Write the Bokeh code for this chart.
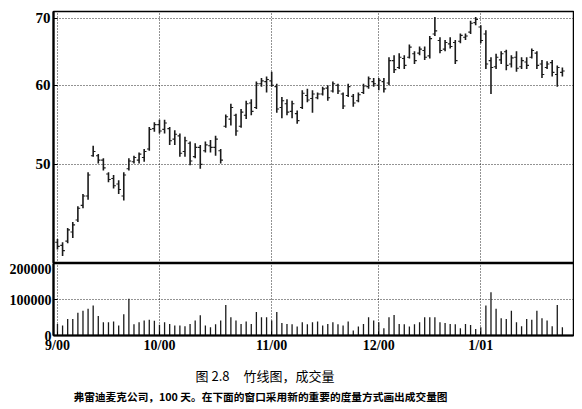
from bokeh.plotting import figure
from bokeh.layouts import column
from bokeh.models import Range1d, FixedTicker, BasicTickFormatter
from bokeh.core.properties import value
from bokeh.embed import file_html
from bokeh.resources import INLINE

# ---- data ----
highs = [42.1, 41.8, 43.2, 43.8, 45.4, 46.7, 49.1, 52.2, 51.2, 50.7,
         49.1, 48.8, 48.2, 49.1, 50.7, 51.0, 51.4, 51.8, 54.5, 55.1,
         55.4, 55.4, 54.5, 54.1, 53.7, 53.3, 52.7, 52.5, 52.3, 52.7,
         52.9, 53.4, 51.8, 56.1, 57.5, 56.2, 56.8, 57.9, 58.1, 60.5,
         61.0, 61.2, 61.9, 60.2, 58.4, 58.1, 57.9, 56.6, 59.3, 59.5,
         59.3, 59.0, 59.8, 60.0, 60.5, 60.2, 59.0, 60.2, 58.8, 59.0,
         60.2, 61.2, 61.0, 61.0, 61.0, 64.0, 64.3, 64.6, 64.3, 65.9,
         64.9, 65.6, 65.6, 67.2, 70.2, 67.0, 66.6, 67.0, 66.6, 67.6,
         67.6, 69.6, 70.2, 68.9, 68.1, 64.0, 64.5, 64.9, 65.1, 64.3,
         64.9, 64.0, 64.0, 65.3, 64.9, 63.6, 63.4, 63.6, 62.8, 62.5]
lows = [41.1, 40.5, 41.7, 42.2, 43.8, 45.2, 46.1, 50.9, 50.1, 49.3,
        48.0, 47.3, 46.7, 46.0, 49.3, 50.1, 50.1, 50.3, 51.6, 53.9,
        53.7, 53.7, 52.3, 52.3, 50.9, 50.9, 49.9, 50.7, 49.5, 51.4,
        51.4, 51.0, 50.1, 54.4, 54.7, 53.4, 54.4, 55.5, 56.0, 56.8,
        59.8, 59.0, 59.8, 56.3, 55.6, 56.0, 55.6, 54.9, 56.8, 57.7,
        56.3, 58.1, 58.6, 57.9, 59.0, 58.8, 56.8, 58.4, 57.1, 57.7,
        58.8, 59.5, 59.8, 59.3, 59.0, 60.0, 61.7, 62.3, 62.3, 63.8,
        63.0, 64.3, 63.6, 63.8, 67.2, 64.6, 64.9, 65.3, 63.0, 66.1,
        66.6, 67.5, 68.9, 66.1, 62.3, 58.8, 62.3, 63.0, 62.1, 62.5,
        61.9, 62.3, 62.3, 63.8, 62.3, 61.0, 62.3, 61.2, 59.8, 61.2]
opens = [41.8, 41.5, 41.9, 42.8, 44.0, 45.5, 46.5, 51.0, 51.0, 50.5,
         48.9, 48.4, 47.8, 46.5, 49.5, 50.3, 50.5, 50.8, 51.8, 54.3,
         54.8, 54.2, 54.3, 53.0, 53.4, 51.5, 52.5, 50.9, 52.0, 51.6,
         52.2, 52.0, 51.6, 54.6, 55.5, 56.0, 54.6, 56.0, 57.6, 57.0,
         60.2, 60.5, 60.6, 59.8, 57.0, 57.5, 56.5, 56.2, 57.0, 58.6,
         58.2, 58.3, 58.8, 59.6, 59.2, 60.0, 58.8, 58.6, 58.5, 57.9,
         59.0, 59.8, 60.5, 60.0, 60.5, 60.3, 63.5, 62.5, 63.8, 64.0,
         64.5, 64.6, 65.0, 64.2, 67.5, 66.5, 65.2, 66.0, 66.2, 66.4,
         67.0, 67.8, 69.3, 68.6, 67.5, 63.5, 62.6, 63.6, 64.8, 63.0,
         64.0, 62.6, 63.3, 64.0, 64.6, 63.0, 62.5, 63.2, 61.5, 61.8]
closes = [41.4, 41.0, 43.0, 43.5, 45.2, 46.5, 48.8, 51.5, 50.5, 49.6,
          48.3, 47.6, 47.2, 48.8, 50.4, 50.8, 51.2, 51.5, 54.2, 54.8,
          54.0, 55.0, 52.8, 53.6, 51.3, 52.8, 50.4, 52.0, 50.0, 52.3,
          52.0, 53.0, 50.5, 55.8, 57.0, 54.0, 56.4, 57.5, 56.5, 60.2,
          60.6, 60.8, 60.0, 56.8, 57.9, 56.4, 57.5, 55.3, 58.9, 58.0,
          58.8, 58.8, 59.5, 58.3, 60.2, 59.2, 57.2, 59.8, 57.6, 58.7,
          59.9, 60.9, 60.2, 60.7, 59.5, 63.5, 62.2, 64.0, 62.8, 65.5,
          63.5, 65.2, 64.0, 66.8, 68.0, 65.0, 66.2, 65.6, 63.5, 67.3,
          67.2, 69.2, 69.8, 66.5, 63.0, 62.5, 64.0, 64.5, 62.8, 63.9,
          62.4, 63.5, 62.8, 65.0, 62.8, 61.5, 63.0, 61.8, 62.5, 62.0]
volumes = [32000, 28000, 46000, 46000, 63000, 69000, 74000, 83000, 54000, 37000,
           37000, 39000, 28000, 59000, 102000, 31000, 37000, 42000, 44000, 41000,
           30000, 37000, 32000, 28000, 28000, 26000, 32000, 42000, 56000, 28000,
           23000, 31000, 42000, 85000, 51000, 42000, 32000, 39000, 32000, 65000,
           51000, 51000, 42000, 65000, 35000, 32000, 31000, 25000, 37000, 31000,
           37000, 39000, 28000, 32000, 37000, 31000, 28000, 39000, 14000, 25000,
           32000, 51000, 42000, 37000, 20000, 51000, 57000, 32000, 31000, 25000,
           31000, 37000, 51000, 51000, 51000, 37000, 35000, 32000, 31000, 20000,
           32000, 29000, 18000, 23000, 83000, 120000, 74000, 48000, 46000, 69000,
           37000, 26000, 46000, 44000, 69000, 48000, 42000, 26000, 85000, 23000]
day_index = list(range(len(highs)))
month_ticks = [0, 20, 42, 63, 83]
month_labels = ["9/00", "10/00", "11/00", "12/00", "1/01"]
price_ticks = [50, 60, 70]
volume_ticks = [0, 100000, 200000]
caption1_parts = ["图 2.8", "竹线图，成交量"]
caption2 = "弗雷迪麦克公司，100 天。在下面的窗口采用新的重要的度量方式画出成交量图"

FONT = "Liberation Serif"
CJK = "Noto Sans CJK SC"
x_range = Range1d(-0.78, 101.18)

# ---- price panel ----
p1 = figure(width=574, height=263, x_range=x_range, y_range=Range1d(39.8, 71.1),
            y_axis_type="log", output_backend="svg", toolbar_location=None,
            min_border_left=53, min_border_right=1, min_border_top=11, min_border_bottom=0)
p1.segment(x0=day_index, y0=lows, x1=day_index, y1=highs, line_color="#1a1a1a", line_width=1.6)
p1.segment(x0=[i - 0.45 for i in day_index], y0=opens, x1=day_index, y1=opens,
           line_color="#1a1a1a", line_width=1.1)
p1.segment(x0=day_index, y0=closes, x1=[i + 0.45 for i in day_index], y1=closes,
           line_color="#1a1a1a", line_width=1.1)

p1.xaxis.ticker = FixedTicker(ticks=month_ticks)
p1.xaxis.visible = False
p1.yaxis.ticker = FixedTicker(ticks=price_ticks)
p1.yaxis.formatter = BasicTickFormatter()
p1.yaxis.major_label_overrides = {t: str(t) for t in price_ticks}
p1.yaxis.minor_tick_line_color = None
p1.yaxis.major_tick_in = 4
p1.yaxis.major_tick_out = 0
p1.yaxis.major_label_standoff = 3
p1.yaxis.axis_line_width = 2.2
p1.yaxis.axis_line_color = "black"
p1.yaxis.major_label_text_font = FONT
p1.yaxis.major_label_text_font_size = "15px"
p1.yaxis.major_label_text_font_style = "bold"
p1.yaxis.major_label_text_color = "black"
for g in (p1.xgrid, p1.ygrid):
    g.grid_line_color = "black"
    g.grid_line_dash = "1 2"
    g.grid_line_width = 1
    g.grid_line_alpha = 0.85
p1.outline_line_color = "black"
p1.outline_line_width = 1.5
p1.outline_line_alpha = 1

# ---- volume panel ----
p2 = figure(width=574, height=94, x_range=x_range, y_range=Range1d(0, 200000),
            output_backend="svg", toolbar_location=None,
            min_border_left=53, min_border_right=1, min_border_top=0, min_border_bottom=22)
p2.segment(x0=day_index, y0=[0] * len(volumes), x1=day_index, y1=volumes,
           line_color="#1a1a1a", line_width=1.3)
p2.xaxis.ticker = FixedTicker(ticks=month_ticks)
p2.xaxis.major_label_overrides = dict(zip(month_ticks, month_labels))
p2.yaxis.ticker = FixedTicker(ticks=volume_ticks)
p2.yaxis.formatter = BasicTickFormatter(use_scientific=False)
p2.ygrid.ticker = FixedTicker(ticks=[100000])
for ax in (p2.xaxis, p2.yaxis):
    ax.minor_tick_line_color = None
    ax.major_tick_in = 4
    ax.major_tick_out = 0
    ax.major_label_standoff = 2
    ax.axis_line_width = 2.2
    ax.axis_line_color = "black"
    ax.major_label_text_font = FONT
    ax.major_label_text_font_size = "14px"
    ax.major_label_text_font_style = "bold"
    ax.major_label_text_color = "black"
for g in (p2.xgrid, p2.ygrid):
    g.grid_line_color = "black"
    g.grid_line_dash = "1 2"
    g.grid_line_width = 1
    g.grid_line_alpha = 0.85
p2.outline_line_color = "black"
p2.outline_line_width = 1.5
p2.outline_line_alpha = 1

# ---- caption strip (x range in page pixels, frame aligned with the plots above) ----
p3 = figure(width=574, height=52, x_range=Range1d(53, 573), y_range=Range1d(0, 52),
            output_backend="svg", toolbar_location=None,
            x_axis_location=None, y_axis_location=None,
            min_border_left=53, min_border_right=1, min_border_top=0, min_border_bottom=0)
p3.grid.visible = False
p3.outline_line_color = None
p3.text(x=[195, 243], y=[34, 34], text=caption1_parts, text_font=value(CJK),
        text_font_size="13px", text_font_style="normal", text_baseline="middle",
        text_align="left", text_color="black")
p3.text(x=[73], y=[13], text=[caption2], text_font=value(CJK), text_font_size="10.7px",
        text_font_style="bold", text_baseline="middle", text_align="left", text_color="black")

layout = column(p1, p2, p3, spacing=0)
open("out.html", "w").write(file_html(layout, INLINE))
